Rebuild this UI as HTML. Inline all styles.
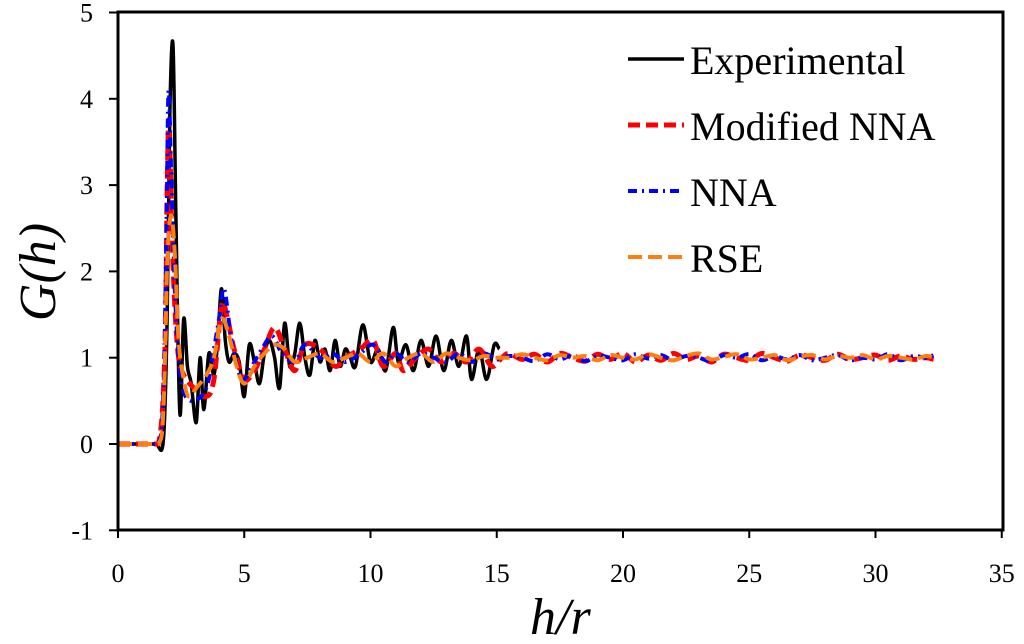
<!DOCTYPE html>
<html><head><meta charset="utf-8"><style>
body{margin:0;background:#fff}
svg{display:block}
.tk{font-family:"Liberation Serif",serif;font-size:26px;fill:#000}
.lg{font-family:"Liberation Serif",serif;font-size:40px;fill:#000}
.ax{font-family:"Liberation Serif",serif;font-size:52px;font-style:italic;fill:#000}
</style></head><body>
<svg id="chart" width="1024" height="644">
<g id="series"></g>
<rect x="118" y="12" width="885" height="518" fill="none" stroke="#000" stroke-width="3"/>
<g id="ticks"></g>
<text class="ax" x="0" y="0" text-anchor="middle" transform="translate(55,272) rotate(-90)">G(h)</text>
<text class="ax" x="530" y="634">h/r</text>
<g id="legend"></g>
</svg>
<script>
const xTicks=[0,5,10,15,20,25,30,35];
const yTicks=[-1,0,1,2,3,4,5];
const expX=[0,1.0,1.5,1.8,1.95,2.05,2.18,2.3,2.45,2.6,2.75,2.9,3.1,3.25,3.4,3.6,3.8,3.95,4.1,4.25,4.4,4.6,4.8,5.0,5.2,5.4,5.6,5.8,6.0,6.2,6.4,6.6,6.8,7.0,7.2,7.4,7.6,7.8,8.0,8.2,8.4,8.6,8.8,9.0,9.2,9.4,9.7,10.0,10.3,10.6,10.9,11.1,11.4,11.7,12.0,12.3,12.6,12.9,13.2,13.5,13.8,14.0,14.3,14.6,14.9,15.1];
const expY=[0,0,0,0.05,1.5,3.8,4.62,2.5,0.35,1.45,0.9,0.7,0.25,1.0,0.4,1.05,0.8,1.2,1.8,1.2,0.95,1.05,0.95,0.55,1.15,0.95,0.7,1.05,1.2,1.0,0.65,1.4,0.9,1.05,1.4,1.0,0.8,1.2,0.95,1.1,0.85,1.2,0.9,1.1,1.0,0.9,1.38,0.95,1.1,0.85,1.35,0.95,1.15,0.85,1.2,0.9,1.25,0.85,1.2,0.9,1.25,0.75,1.1,0.75,1.15,1.1];
const tailX=[15.5,16,16.5,17,17.5,18,18.5,19,19.5,20,20.5,21,21.5,22,22.5,23,23.5,24,24.5,25,25.5,26,26.5,27,27.5,28,28.5,29,29.5,30,30.5,31,31.5,32,32.3];
const modX=[0,1.0,1.6,1.85,1.95,2.02,2.12,2.25,2.4,2.6,3.0,3.5,3.8,4.1,4.3,4.6,5.0,5.4,5.8,6.2,6.6,7.0,7.4,8.0,8.6,9.0,9.6,10.1,10.5,11.0,11.3,11.8,12.3,12.8,13.3,13.8,14.3,14.8,15.2];
const modY=[0,0,0,1.0,3.0,3.75,2.6,1.6,1.0,0.8,0.65,0.55,0.75,1.6,1.5,1.1,0.75,0.85,1.1,1.35,1.1,0.85,1.15,1.1,0.9,1.0,1.1,1.2,0.9,1.05,0.85,1.0,1.1,0.95,1.05,0.95,1.1,0.9,1.0];
const modTail=[1.05,0.98,1.04,0.95,1.05,1.0,0.96,1.04,0.98,1.05,0.95,1.03,0.97,1.05,0.98,1.02,0.95,1.04,1.0,0.97,1.05,1.0,0.96,1.03,1.0,0.97,1.04,0.98,1.0,1.03,0.97,1.02,0.98,1.0,0.98];
const nnaX=[0,1.0,1.6,1.8,1.92,2.0,2.1,2.25,2.4,2.6,3.0,3.5,3.8,4.0,4.2,4.5,4.9,5.3,5.7,6.1,6.5,7.0,7.4,8.0,8.5,9.0,9.6,10.1,10.6,11.0,11.5,12.0,12.5,13.0,13.5,14.0,14.5,15.0];
const nnaY=[0,0,0,0.6,2.5,4.08,3.2,1.8,1.0,0.6,0.5,0.65,1.1,1.45,1.8,1.2,0.75,0.9,1.1,1.25,1.05,0.95,1.15,1.0,1.05,0.95,1.05,1.15,0.95,1.05,0.95,1.05,1.0,0.95,1.05,0.95,1.05,0.98];
const nnaTail=[1.02,1.0,0.96,1.04,0.98,1.03,0.96,1.02,1.0,0.97,1.04,0.99,1.03,0.97,1.02,1.0,0.96,1.03,1.0,1.04,0.97,1.02,0.98,1.03,0.97,1.0,1.03,0.97,1.0,0.98,1.04,0.97,1.02,1.0,1.03];
const rseX=[0,1.0,1.6,1.8,1.95,2.1,2.25,2.4,2.6,2.8,3.1,3.5,3.8,4.1,4.4,4.7,5.0,5.4,5.8,6.2,6.6,7.0,7.5,8.0,8.5,9.0,9.5,10.0,10.5,11.0,11.5,12.0,12.5,13.0,13.5,14.0,14.5,15.0];
const rseY=[0,0,0,0.4,2.1,2.65,2.2,1.2,0.75,0.55,0.65,0.8,1.0,1.45,1.25,0.9,0.7,0.9,1.05,1.15,1.1,0.95,1.0,1.05,0.95,1.0,1.05,0.95,1.05,0.9,1.0,1.05,0.95,1.05,1.0,0.97,1.02,1.0];
const rseTail=[1.0,1.04,1.0,0.97,1.03,1.0,1.02,0.97,1.03,1.0,0.98,1.04,1.0,0.97,1.02,1.05,0.98,1.01,1.04,0.98,1.0,1.03,0.97,1.01,1.03,0.98,1.02,1.0,1.03,0.98,1.02,1.0,0.98,1.02,1.0];

const X0=118,SX=25.25,Y0=444,SY=86.3;
const sx=v=>X0+v*SX, sy=v=>Y0-v*SY;
const NS="http://www.w3.org/2000/svg";
function mk(t,a){const e=document.createElementNS(NS,t);for(const k in a)e.setAttribute(k,a[k]);return e;}
function pathD(xs,ys){
 const p=xs.map((x,i)=>[sx(x),sy(ys[i])]);
 let d="M"+p[0][0].toFixed(1)+","+p[0][1].toFixed(1);
 for(let i=0;i<p.length-1;i++){
  const a=p[i-1]||p[i],b=p[i],c=p[i+1],e=p[i+2]||c;
  let c1=[b[0]+(c[0]-a[0])/6,b[1]+(c[1]-a[1])/6],c2=[c[0]-(e[0]-b[0])/6,c[1]-(e[1]-b[1])/6];
  if(b[1]===c[1]){c1=[c1[0],b[1]];c2=[c2[0],c[1]];}
  d+="C"+c1.map(v=>v.toFixed(1)).join(",")+" "+c2.map(v=>v.toFixed(1)).join(",")+" "+c[0].toFixed(1)+","+c[1].toFixed(1);
 }
 return d;
}
const g=document.getElementById('series');
const styles={nna:{s:"#0000ff",w:4,da:"9 5 2 5"},mod:{s:"#ff0000",w:5,da:"12 6"},rse:{s:"#ff7f0e",w:4,da:"14 6"},exp:{s:"#000",w:3.5,da:""}};
function draw(xs,ys,st,name){
 const p=mk('path',{d:pathD(xs,ys),fill:"none",stroke:st.s,"stroke-width":st.w,"stroke-dasharray":st.da,"stroke-linejoin":"round"});
 
 
 g.appendChild(p);
}
draw(expX,expY,styles.exp,'experimental-line');
draw(modX.concat(tailX),modY.concat(modTail),styles.mod,'modified-nna-line');
draw(nnaX.concat(tailX),nnaY.concat(nnaTail),styles.nna,'nna-line');
draw(rseX.concat(tailX),rseY.concat(rseTail),styles.rse,'rse-line');

const tg=document.getElementById('ticks');
xTicks.forEach(v=>{
 tg.appendChild(mk('line',{x1:sx(v),x2:sx(v),y1:530,y2:538,stroke:"#000","stroke-width":2}));
 const t=mk('text',{x:sx(v),y:582,"text-anchor":"middle",class:"tk"});t.textContent=v;
 
 
 tg.appendChild(t);
});
yTicks.forEach(v=>{
 tg.appendChild(mk('line',{x1:109,x2:118,y1:sy(v),y2:sy(v),stroke:"#000","stroke-width":2}));
 const t=mk('text',{x:93,y:sy(v)+9,"text-anchor":"end",class:"tk"});t.textContent=v;
 
 
 tg.appendChild(t);
});
const legendNames=["Experimental","Modified NNA","NNA","RSE"];
const legendKeys=["exp","mod","nna","rse"];
const lg=document.getElementById('legend');
legendNames.forEach((n,i)=>{
 const y=74+i*66, st=styles[legendKeys[i]];
 const ent=mk('g',{});
 
 
 ent.appendChild(mk('line',{x1:628,x2:684,y1:y-15,y2:y-15,stroke:st.s,"stroke-width":st.w,"stroke-dasharray":st.da}));
 const t=mk('text',{x:690,y:y,class:"lg"});t.textContent=n;ent.appendChild(t);
 lg.appendChild(ent);
});
</script>
</body></html>
